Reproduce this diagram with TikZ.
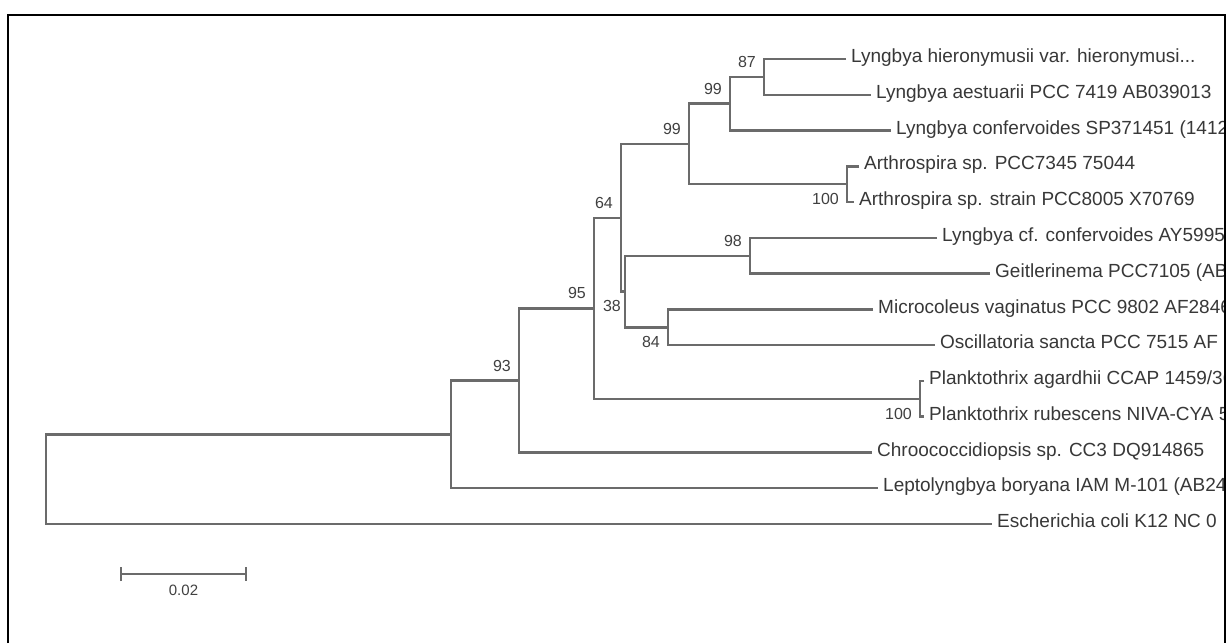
\documentclass[tikz,border=0pt]{standalone}
\usepackage{fontspec}
\setmainfont{Liberation Sans}
\usepackage{xcolor}
\usepackage{tikz}
\usetikzlibrary{arrows.meta}

\tikzset{
    branch/.style={line width=2.5pt, color=black!58},
    leaf/.style={anchor=west, inner xsep=5pt, inner ysep=0pt, text=black!78,
        font=\fontsize{19}{19}\selectfont, text height=0.72em, text depth=0pt},
    boot/.style={inner sep=0pt, text=black!75, font=\fontsize{16}{16}\selectfont},
    bootup/.style={boot, anchor=south east, xshift=-8pt, yshift=9pt},
    bootdown/.style={boot, anchor=north east, xshift=-8pt, yshift=-9pt}
}

\begin{document}
\begin{tikzpicture}[x=1pt, y=-1pt]
        \useasboundingbox (0,0) rectangle (1232,643);
        \fill[white] (0,0) rectangle (1232,643);
        \coordinate (n87) at (764,76.9);
        \coordinate (n99a) at (730,103.7);
        \coordinate (nart) at (847,184.2);
        \coordinate (n99b) at (689,144);
        \coordinate (n98) at (750,255.8);
        \coordinate (n84) at (668,327.3);
        \coordinate (n38) at (625,291.5);
        \coordinate (n64) at (621,217.8);
        \coordinate (npla) at (920,398.8);
        \coordinate (n95) at (594,308.3);
        \coordinate (n93) at (519,380.4);
        \coordinate (nlep) at (451,434.3);
        \coordinate (root) at (46,479.2);
        \begin{scope}
            \clip (8,15) rectangle (1224,643);
            \node[leaf] (l1) at (846,59) {Lyngbya hieronymusii var. hieronymusi...};
            \node[leaf] (l2) at (871,94.8) {Lyngbya aestuarii PCC 7419 AB039013};
            \node[leaf] (l3) at (891,130.5) {Lyngbya confervoides SP371451 (1412};
            \node[leaf] (l4) at (859,166.3) {Arthrospira sp. PCC7345 75044};
            \node[leaf] (l5) at (854,202.1) {Arthrospira sp. strain PCC8005 X70769};
            \node[leaf] (l6) at (937,237.9) {Lyngbya cf. confervoides AY5995};
            \node[leaf] (l7) at (990,273.6) {Geitlerinema PCC7105 (AB};
            \node[leaf] (l8) at (873,309.4) {Microcoleus vaginatus PCC 9802 AF2846};
            \node[leaf] (l9) at (935,345.2) {Oscillatoria sancta PCC 7515 AF};
            \node[leaf] (l10) at (924,380.9) {Planktothrix agardhii CCAP 1459/36};
            \node[leaf] (l11) at (924,416.7) {Planktothrix rubescens NIVA-CYA 5};
            \node[leaf] (l12) at (872,452.5) {Chroococcidiopsis sp. CC3 DQ914865};
            \node[leaf] (l13) at (878,488.2) {Leptolyngbya boryana IAM M-101 (AB24};
            \node[leaf] (l14) at (992,524) {Escherichia coli K12 NC 0};
        \end{scope}
        \draw[branch] (l1.west) -| (n87) |- (l2.west);
        \draw[branch] (n87) -| (n99a) |- (l3.west);
        \draw[branch] (l4.west) -| (nart) |- (l5.west);
        \draw[branch] (n99a) -| (n99b) |- (nart);
        \draw[branch] (l6.west) -| (n98) |- (l7.west);
        \draw[branch] (l8.west) -| (n84) |- (l9.west);
        \draw[branch] (n98) -| (n38) |- (n84);
        \draw[branch] (n99b) -| (n64) |- (n38);
        \draw[branch] (l10.west) -| (npla) |- (l11.west);
        \draw[branch] (n64) -| (n95) |- (npla);
        \draw[branch] (n95) -| (n93) |- (l12.west);
        \draw[branch] (n93) -| (nlep) |- (l13.west);
        \draw[branch] (nlep) -| (root) |- (l14.west);
        \node[bootup] (b87) at (n87) {87};
        \node[bootup] (b99a) at (n99a) {99};
        \node[bootup] (b99b) at (n99b) {99};
        \node[bootup] (b64) at (n64) {64};
        \node[bootup] (b95) at (n95) {95};
        \node[bootup] (b93) at (n93) {93};
        \node[bootup] (b98) at (n98) {98};
        \node[bootdown, xshift=4pt] (b38) at (n38) {38};
        \node[bootdown] (b84) at (n84) {84};
        \node[bootdown] (bart) at (nart) {100};
        \node[bootdown] (bpla) at (npla) {100};
        \coordinate (sbl) at (120,574);
        \coordinate (sbr) at (247,574);
        \draw[branch, line width=2pt, {Bar[width=14pt]}-{Bar[width=14pt]}] (sbl) -- (sbr);
        \node[boot, font=\fontsize{15}{15}\selectfont] (sblab) at (183.5,590) {0.02};
        \draw[line width=2pt] (8,643) -- (8,15) -- (1225,15) -- (1225,643);
    \end{tikzpicture}
\end{document}
